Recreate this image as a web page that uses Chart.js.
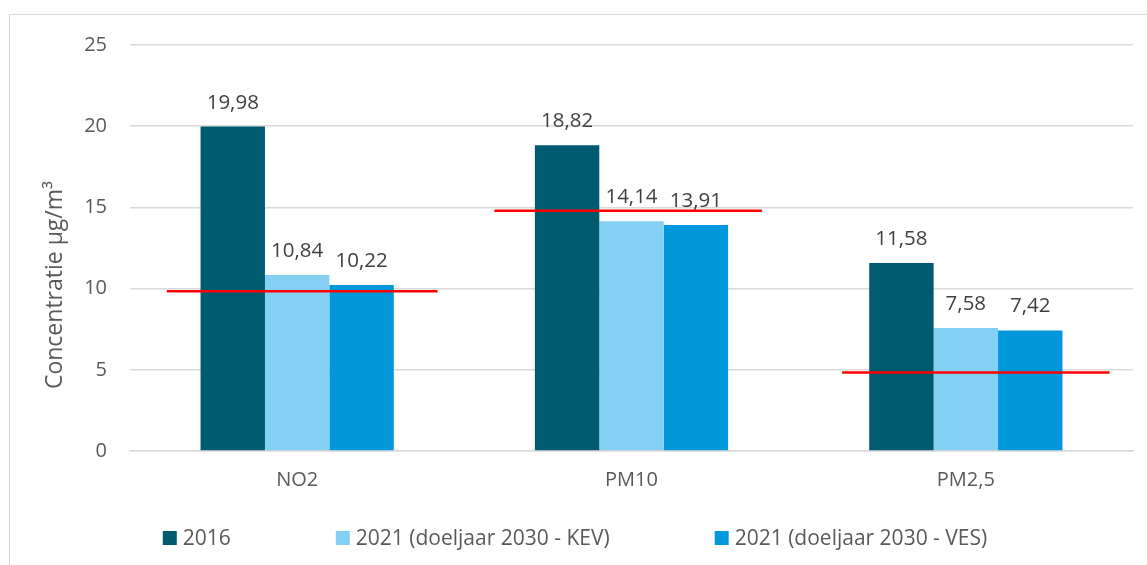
<!DOCTYPE html>
<html><head><meta charset="utf-8">
<script src="https://cdn.jsdelivr.net/npm/chart.js@4/dist/chart.umd.min.js"></script>
<style>
html,body{margin:0;padding:0;background:#fff;overflow:hidden}
#wrap{position:relative;width:1147px;height:565px}
#frame{position:absolute;left:9px;top:14px;width:1200px;height:600px;border:1.5px solid #d9d9d9;box-sizing:border-box}
canvas{position:absolute;left:0;top:0}
</style></head><body>
<div id="wrap"><div id="frame"></div><canvas id="c" width="1147" height="565"></canvas></div>
<script>
const categories = ['NO2', 'PM10', 'PM2,5'];
const seriesNames = ['2016', '2021 (doeljaar 2030 - KEV)', '2021 (doeljaar 2030 - VES)'];
const values2016 = [19.98, 18.82, 11.58];
const valuesKEV = [10.84, 14.14, 7.58];
const valuesVES = [10.22, 13.91, 7.42];
const limitValues = [9.84, 14.8, 4.84];
const limitSpanStart = [-0.39, -0.41, -0.37];
const limitSpanEnd = [0.42, 0.39, 0.43];
const yTicks = [0, 5, 10, 15, 20, 25];
const axisTitle = 'Concentratie µg/m³';

const FONT = '"Open Sans", "DejaVu Sans", sans-serif';
const colors = ['#005a70', '#84d0f5', '#0098da'];

const decor = {
  id: 'decor',
  afterDatasetsDraw(chart) {
    const ctx = chart.ctx;
    const xs = chart.scales.x, ys = chart.scales.y;
    const cw = xs.getPixelForValue(1) - xs.getPixelForValue(0);
    // limit lines
    ctx.save();
    ctx.strokeStyle = '#ff0000';
    ctx.lineWidth = 2.5;
    limitValues.forEach((v, i) => {
      const c = xs.getPixelForValue(i);
      const y = ys.getPixelForValue(v);
      ctx.beginPath();
      ctx.moveTo(c + limitSpanStart[i] * cw, y);
      ctx.lineTo(c + limitSpanEnd[i] * cw, y);
      ctx.stroke();
    });
    ctx.restore();
    // value labels
    ctx.save();
    ctx.font = '20.5px ' + FONT;
    ctx.fillStyle = '#404040';
    ctx.textAlign = 'center';
    ctx.textBaseline = 'alphabetic';
    chart.data.datasets.forEach((ds, di) => {
      const meta = chart.getDatasetMeta(di);
      meta.data.forEach((el, i) => {
        ctx.fillText(ds.data[i].toFixed(2).replace('.', ','), el.x, el.y - 18);
      });
    });
    ctx.restore();
  },
  afterDraw(chart) {
    const ctx = chart.ctx;
    const ca = chart.chartArea;
    ctx.save();
    ctx.font = '23px ' + FONT;
    ctx.fillStyle = '#595959';
    ctx.translate(55, (ca.top + ca.bottom) / 2 + 37);
    ctx.rotate(-Math.PI / 2);
    ctx.textAlign = 'center';
    ctx.textBaseline = 'middle';
    ctx.fillText(axisTitle, 0, 0);
    ctx.restore();
    ctx.save();
    ctx.font = '21px ' + FONT;
    const items = chart.data.datasets;
    const box = 14, gap = 6, itemGap = 105;
    const widths = items.map(d => box + gap + ctx.measureText(d.label).width);
    const total = widths.reduce((a, b) => a + b, 0) + itemGap * (items.length - 1);
    let x = 575 - total / 2;
    items.forEach((d, i) => {
      ctx.fillStyle = d.backgroundColor;
      ctx.fillRect(x, 531, box, box);
      ctx.fillStyle = '#595959';
      ctx.textAlign = 'left';
      ctx.textBaseline = 'alphabetic';
      ctx.fillText(d.label, x + box + gap, 545);
      x += widths[i] + itemGap;
    });
    ctx.restore();
  }
};

function make() {
  new Chart(document.getElementById('c'), {
    type: 'bar',
    data: {
      labels: categories,
      datasets: [
        {label: seriesNames[0], data: values2016, backgroundColor: colors[0]},
        {label: seriesNames[1], data: valuesKEV, backgroundColor: colors[1]},
        {label: seriesNames[2], data: valuesVES, backgroundColor: colors[2]}
      ]
    },
    options: {
      responsive: false,
      animation: false,
      layout: {padding: {top: 45, right: 14, left: 0, bottom: 0}},
      datasets: {bar: {categoryPercentage: 0.578, barPercentage: 1, borderWidth: 0}},
      plugins: {legend: {display: false}, tooltip: {enabled: false}},
      scales: {
        x: {
          type: 'category',
          offset: true,
          grid: {display: false},
          border: {display: true, color: '#d9d9d9', width: 1.5},
          ticks: {font: {family: FONT, size: 20}, color: '#595959', padding: 9},
          afterFit: s => { s.height = 114; }
        },
        y: {
          min: yTicks[0], max: yTicks[yTicks.length - 1],
          afterBuildTicks: s => { s.ticks = yTicks.map(v => ({value: v})); },
          grid: {color: '#d9d9d9', lineWidth: 1.5, drawTicks: false},
          border: {display: false},
          ticks: {font: {family: FONT, size: 20}, color: '#595959', padding: 23},
          afterFit: s => { s.width = 130; }
        }
      }
    },
    plugins: [decor]
  });
}
document.fonts.load('20px "Open Sans"').then(make, make);
</script>
</body></html>
